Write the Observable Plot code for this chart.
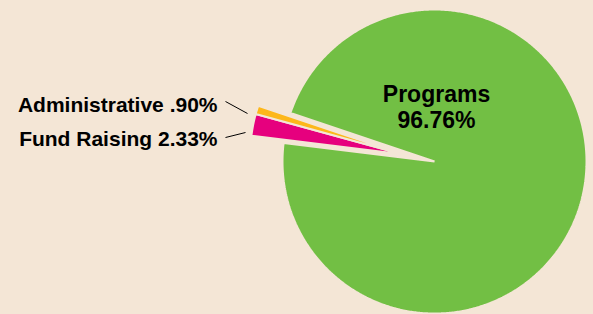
<!DOCTYPE html>
<html>
<head>
<meta charset="utf-8">
<script src="https://cdn.jsdelivr.net/npm/d3@7"></script>
<script src="https://cdn.jsdelivr.net/npm/@observablehq/plot@0.6"></script>
<style>
  html, body { margin: 0; padding: 0; background: #f4e6d6; }
  #chart { width: 593px; height: 314px; overflow: hidden; }
</style>
</head>
<body>
<div id="chart"></div>
<script>
// ---- data ----
const categories = ["Programs", "Fund Raising", "Administrative"];
const values = [96.76, 2.33, 0.90];
const valueLabels = ["96.76%", "2.33%", ".90%"];
const colors = ["#72bf44", "#e6007e", "#fdb71a"];

// ---- layout ----
const W = 593, H = 314;
const bg = "#f4e6d6";
const pie = {cx: 434, cy: 161, r: 152, start: 288.6, explode: 33};
const sideLabel = {
  "Administrative": {x: 217, y: 104.3, lx1: 225, ly1: 101, lx2: 247, ly2: 113},
  "Fund Raising":   {x: 217, y: 138.3, lx1: 225, ly1: 137, lx2: 245, ly2: 132}
};

const rad = (deg) => deg * Math.PI / 180;
const arcs = d3.pie().sort(null)
  .startAngle(rad(pie.start))
  .endAngle(rad(pie.start) + 2 * Math.PI)(values);

// exploded offset for the small slices: along their common mid-angle
const small = arcs.slice(1);
const smallMid = (small[0].startAngle + small[small.length - 1].endAngle) / 2;
const off = [
  [0, 0],
  [pie.explode * Math.sin(smallMid), -pie.explode * Math.cos(smallMid)],
  [pie.explode * Math.sin(smallMid), -pie.explode * Math.cos(smallMid)]
];

const polys = [];
arcs.forEach((a, i) => {
  const name = categories[i];
  const ox = pie.cx + off[i][0], oy = pie.cy + off[i][1];
  polys.push({name, x: ox, y: oy});
  const steps = Math.max(4, Math.ceil((a.endAngle - a.startAngle) / rad(0.5)));
  for (let k = 0; k <= steps; k++) {
    const t = a.startAngle + (a.endAngle - a.startAngle) * k / steps;
    polys.push({name, x: ox + pie.r * Math.sin(t), y: oy - pie.r * Math.cos(t)});
  }
});

const side = categories.slice(1).map((c, j) => ({
  name: c,
  text: c + " " + valueLabels[j + 1],
  ...sideLabel[c]
}));

const chart = Plot.plot({
  width: W,
  height: H,
  margin: 0,
  x: {domain: [0, W], range: [0, W], axis: null},
  y: {domain: [0, H], range: [0, H], axis: null},
  color: {domain: categories, range: colors},
  style: {background: bg, fontFamily: "Liberation Sans, Arial, sans-serif"},
  marks: [
    Plot.line(polys, {x: "x", y: "y", z: "name", fill: "name", stroke: bg, strokeWidth: 2, curve: "linear-closed", strokeLinejoin: "miter"}),
    Plot.text([categories[0] + "\n" + valueLabels[0]], {
      x: pie.cx + 2, y: pie.cy - 54.4, text: d => d,
      fontSize: 23, fontWeight: "bold", fill: "#000", lineHeight: 1.13
    }),
    Plot.link(side, {x1: "lx1", y1: "ly1", x2: "lx2", y2: "ly2", stroke: "#000", strokeWidth: 1}),
    Plot.text(side, {x: "x", y: "y", text: "text", textAnchor: "end", fontSize: 21, fontWeight: "bold", fill: "#000"})
  ]
});
document.getElementById("chart").appendChild(chart);
</script>
</body>
</html>
